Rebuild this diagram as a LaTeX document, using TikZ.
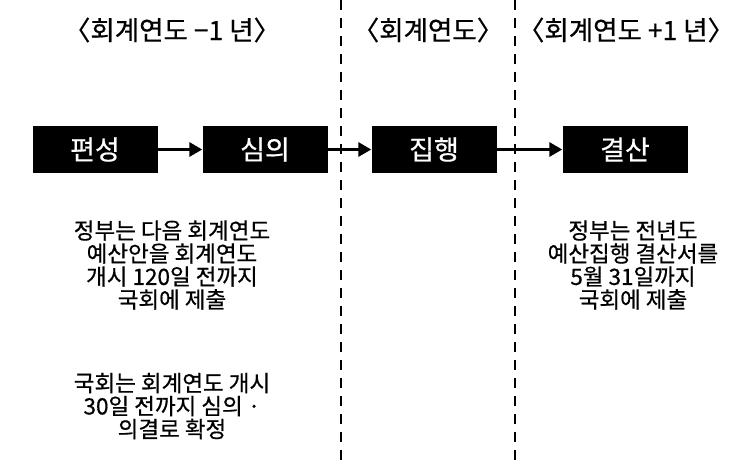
\documentclass[tikz,border=0pt]{standalone}
\usepackage{fontspec}
\setmainfont{Noto Sans CJK KR}[FakeBold=0.6]
\usetikzlibrary{arrows.meta}
\tikzset{
  stagebox/.style={fill=black, text=white, minimum width=125pt, minimum height=47pt, inner sep=0pt, font=\fontsize{27}{30}\selectfont},
  flow/.style={line width=3pt, -{Triangle[length=13pt,width=14pt]}},
  divider/.style={line width=1.6pt, dash pattern=on 10pt off 8pt},
  header/.style={font=\fontsize{26.5}{30}\selectfont},
  note/.style={align=center, font=\fontsize{22.5}{23}\selectfont}
}
\begin{document}
\begin{tikzpicture}[x=1pt,y=-1pt]
\useasboundingbox (0,0) rectangle (743,461);
\coordinate (d1t) at (341,0); \coordinate (d1b) at (341,461);
\coordinate (d2t) at (515,0); \coordinate (d2b) at (515,461);
\draw[divider] (d1t) -- (d1b);
\draw[divider] (d2t) -- (d2b);
\node[header] (h1) at (172,30) {〈회계연도 −1 년〉};
\node[header] (h2) at (428,30) {〈회계연도〉};
\node[header] (h3) at (626,30) {〈회계연도 +1 년〉};
\node[stagebox] (a) at (95,149.5) {편성};
\node[stagebox] (b) at (265,149.5) {심의};
\node[stagebox] (c) at (434,149.5) {집행};
\node[stagebox] (d) at (625,149.5) {결산};
\draw[flow] (a) -- (b);
\draw[flow] (b) -- (c);
\draw[flow] (c) -- (d);
\node[note] (n1) at (172,265) {정부는 다음 회계연도\\예산안을 회계연도\\개시 120일 전까지\\국회에 제출};
\node[note] (n2) at (172,406) {국회는 회계연도 개시\\30일 전까지 심의 ·\\의결로 확정};
\node[note] (n3) at (633,265) {정부는 전년도\\예산집행 결산서를\\5월 31일까지\\국회에 제출};
\end{tikzpicture}
\end{document}
